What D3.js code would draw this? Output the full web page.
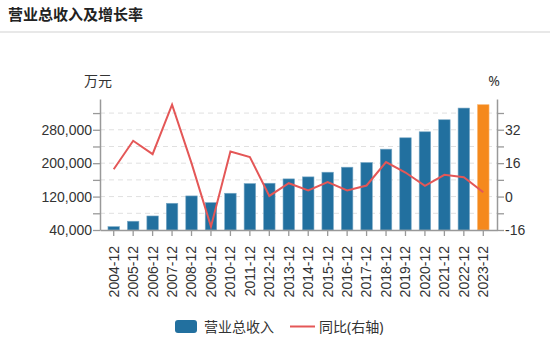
<!DOCTYPE html>
<html>
<head>
<meta charset="utf-8">
<script src="https://cdn.jsdelivr.net/npm/d3@7"></script>
<style>
  body { margin: 0; background: #fff; }
  svg { display: block; font-family: "Noto Sans", "Noto Sans CJK SC", sans-serif; }
</style>
</head>
<body>
<svg id="chart"></svg>
<script>
// data
const years = ["2004-12", "2005-12", "2006-12", "2007-12", "2008-12", "2009-12", "2010-12",
  "2011-12", "2012-12", "2013-12", "2014-12", "2015-12", "2016-12", "2017-12", "2018-12",
  "2019-12", "2020-12", "2021-12", "2022-12", "2023-12"];
const revenue = [48000, 61000, 73600, 104000, 121600, 105600, 128000, 151200, 152000, 162400,
  167200, 178400, 190400, 201600, 233600, 260800, 275200, 304000, 332000, 340000];
const growth = [13.1, 26.7, 20.3, 44.0, 16.0, -14.4, 21.6, 18.9, 0.3, 6.4,
  2.9, 6.9, 2.9, 5.3, 16.5, 11.5, 5.1, 10.4, 9.3, 2.1];
const leftTicks = [40000, 80000, 120000, 160000, 200000, 240000, 280000, 320000];
const rightTicks = [-16, -8, 0, 8, 16, 24, 32, 40];

const width = 550, height = 343;
const margin = { top: 99, right: 53, bottom: 113, left: 100 };
const textColor = "#333";
const axisColor = "#999";
const fontSize = "14px";

const svg = d3.select("#chart").attr("width", width).attr("height", height);

// title + separator
svg.append("text")
  .attr("x", 8).attr("y", 20)
  .style("font-size", "15px").style("font-weight", "bold")
  .attr("fill", "#222")
  .text("营业总收入及增长率");
svg.append("rect")
  .attr("x", 0).attr("y", 31).attr("width", width).attr("height", 2)
  .attr("fill", "#e8e8e8");

const x = d3.scaleBand()
  .domain(years)
  .range([margin.left, width - margin.right])
  .padding(0.41);

const yL = d3.scaleLinear()
  .domain([40000, 353700])
  .range([height - margin.bottom, margin.top]);

const yR = d3.scaleLinear()
  .domain([-16, 46.7])
  .range([height - margin.bottom, margin.top]);

// grid lines
svg.append("g")
  .selectAll("line")
  .data(leftTicks.slice(1))
  .join("line")
  .attr("x1", margin.left).attr("x2", width - margin.right)
  .attr("y1", d => yL(d)).attr("y2", d => yL(d))
  .attr("stroke", "#e0e0e0")
  .attr("stroke-dasharray", "5,4");

// bars
svg.append("g")
  .selectAll("rect")
  .data(revenue)
  .join("rect")
  .attr("x", (d, i) => x(years[i]))
  .attr("y", d => yL(d))
  .attr("width", x.bandwidth())
  .attr("height", d => yL(40000) - yL(d))
  .attr("fill", (d, i) => i === years.length - 1 ? "#f5891c" : "#22709f")
  .attr("stroke", (d, i) => i === years.length - 1 ? "#f9b26a" : "#7aa9c6")
  .attr("stroke-width", 0.6);

// growth line
const line = d3.line()
  .x((d, i) => x(years[i]) + x.bandwidth() / 2)
  .y(d => yR(d));

svg.append("path")
  .datum(growth)
  .attr("d", line)
  .attr("fill", "none")
  .attr("stroke", "#e45757")
  .attr("stroke-width", 2);

function styleAxis(g) {
  g.select(".domain").attr("stroke", axisColor).attr("stroke-width", 1.5);
  g.selectAll(".tick line").attr("stroke", axisColor).attr("stroke-width", 1.3);
  g.selectAll(".tick text").attr("fill", textColor).style("font-size", fontSize);
}

// left axis
svg.append("g")
  .attr("transform", `translate(${margin.left},0)`)
  .call(d3.axisLeft(yL)
    .tickValues(leftTicks)
    .tickSize(7)
    .tickSizeOuter(0)
    .tickFormat(d => ((d - 40000) % 80000 === 0 ? d3.format(",")(d) : "")))
  .call(styleAxis)
  .call(g => g.selectAll(".tick text").attr("x", -8));

// right axis
svg.append("g")
  .attr("transform", `translate(${width - margin.right},0)`)
  .call(d3.axisRight(yR)
    .tickValues(rightTicks)
    .tickSize(7)
    .tickSizeOuter(0)
    .tickFormat(d => (d % 16 === 0 ? d : "")))
  .call(styleAxis)
  .call(g => g.selectAll(".tick text").attr("x", 8));

// bottom axis
svg.append("g")
  .attr("transform", `translate(0,${height - margin.bottom})`)
  .call(d3.axisBottom(x).tickSize(6).tickSizeOuter(0))
  .call(styleAxis)
  .call(g => g.selectAll(".tick text")
    .attr("transform", "rotate(-90)")
    .attr("text-anchor", "end")
    .attr("x", -16).attr("y", 0)
    .attr("dy", "0.35em"));

// unit labels
svg.append("text")
  .attr("x", 98).attr("y", 86)
  .attr("text-anchor", "middle")
  .attr("fill", textColor)
  .style("font-size", fontSize)
  .text("万元");
svg.append("text")
  .attr("x", 494).attr("y", 86)
  .attr("text-anchor", "middle")
  .attr("fill", textColor)
  .style("font-size", fontSize)
  .text("%");

// legend
const legend = svg.append("g");
legend.append("rect")
  .attr("x", 175).attr("y", 320).attr("width", 22).attr("height", 13)
  .attr("rx", 3)
  .attr("fill", "#22709f");
legend.append("text")
  .attr("x", 204).attr("y", 331.5)
  .attr("fill", textColor).style("font-size", fontSize)
  .text("营业总收入");
legend.append("line")
  .attr("x1", 290).attr("x2", 315).attr("y1", 326.5).attr("y2", 326.5)
  .attr("stroke", "#e45757").attr("stroke-width", 2);
legend.append("text")
  .attr("x", 319).attr("y", 331.5)
  .attr("fill", textColor).style("font-size", fontSize)
  .text("同比(右轴)");
</script>
</body>
</html>
